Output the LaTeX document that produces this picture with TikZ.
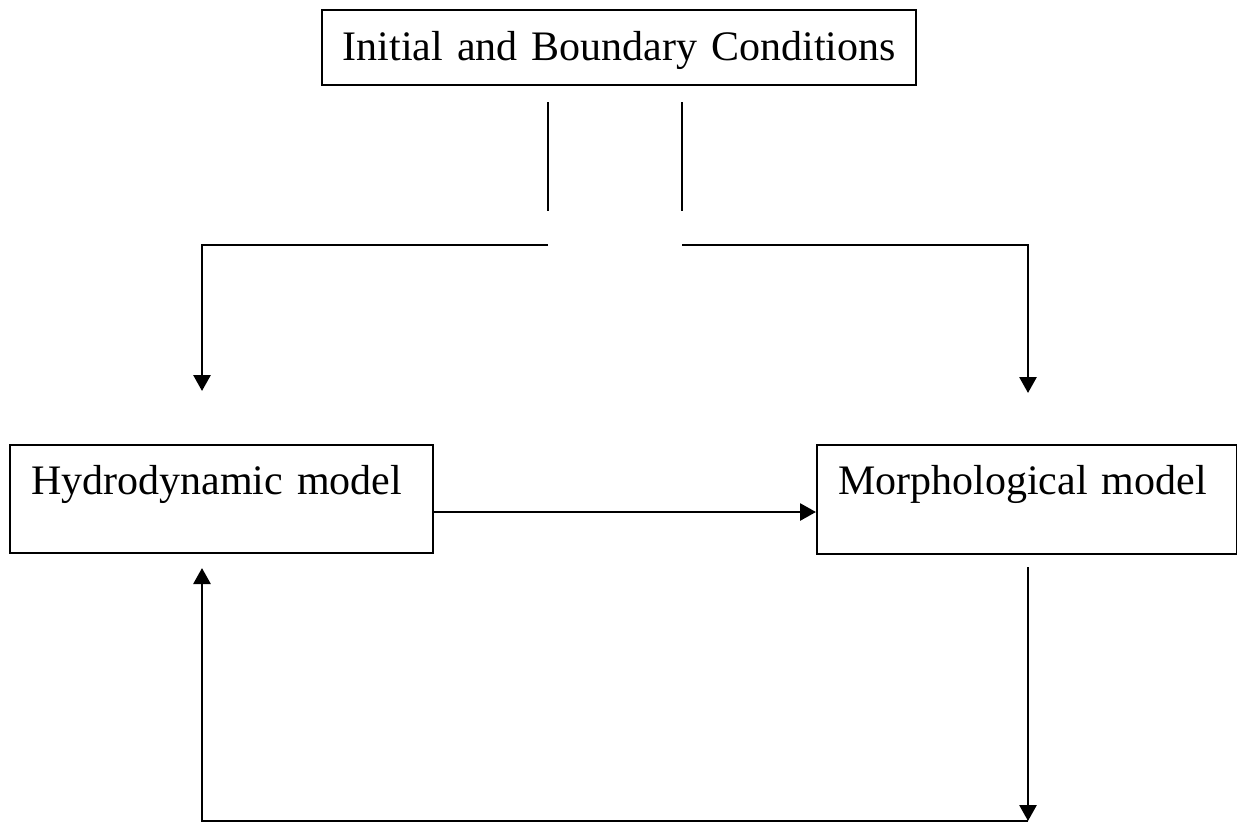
\documentclass[tikz,border=0pt]{standalone}
\usepackage{fontspec}
\setmainfont{Liberation Serif}
\usetikzlibrary{arrows.meta}
\begin{document}
\begin{tikzpicture}[x=1pt,y=-1pt,
  every node/.style={font=\fontsize{42}{50}\selectfont},
  box/.style={draw,line width=2.4pt,inner ysep=0pt,anchor=north west},
  link/.style={line width=2.8pt},
  arr/.style={link,-{Triangle[length=16pt,width=17pt]}}]
  \useasboundingbox[fill=white] (0,0) rectangle (1237,823);
  % boxes
  \node[box,inner xsep=0pt,text width=594pt,align=center,text height=50pt,text depth=25pt]
    (ibc) at (321,9) {Initial and Boundary Conditions};
  \node[box,inner xsep=21pt,text width=381pt,align=left,text height=49pt,text depth=59pt]
    (hydro) at (9,444) {Hydrodynamic model};
  \node[box,inner xsep=21pt,text width=378pt,align=left,text height=49pt,text depth=60pt]
    (morph) at (816,444) {Morphological model};
  % free ends of the split connector below the top box
  \coordinate (l1) at (548,102);
  \coordinate (l2) at (548,211);
  \coordinate (l3) at (548,245);
  \coordinate (r1) at (682,102);
  \coordinate (r2) at (682,211);
  \coordinate (r3) at (682,245);
  \coordinate (hin) at (202,391);
  \coordinate (min) at (1028,393);
  \coordinate (mout) at (1028,567);
  \coordinate (bright) at (1028,821);
  \coordinate (bleft) at (202,821);
  \coordinate (hret) at (202,568);
  % connectors
  \draw[link] (l1) -- (l2);
  \draw[link] (r1) -- (r2);
  \draw[arr] (l3) -- (202,245) -- (hin);
  \draw[arr] (r3) -- (1028,245) -- (min);
  \draw[arr] (hydro.east |- 0,512) -- (morph.west |- 0,512);
  \draw[arr] (mout) -- (bright);
  \draw[arr] (bright) -- (bleft) -- (hret);
\end{tikzpicture}
\end{document}
